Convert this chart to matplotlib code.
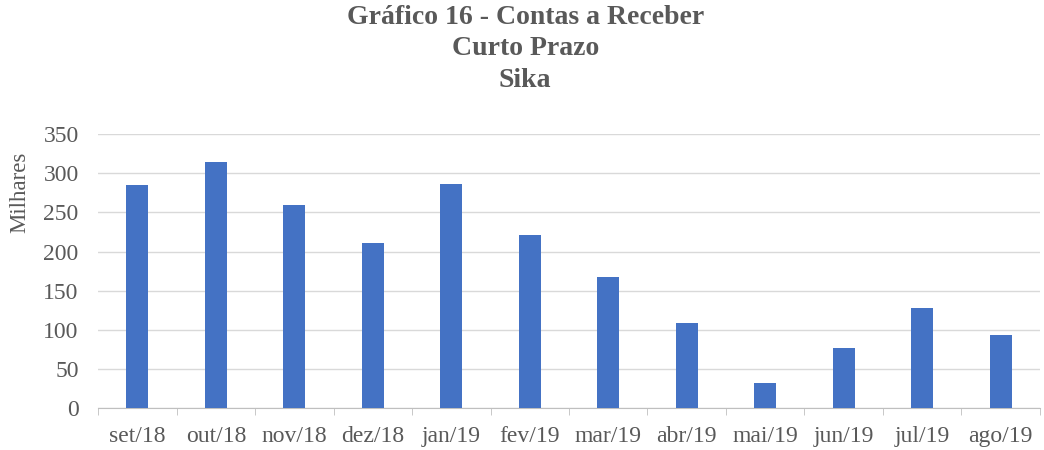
import matplotlib
matplotlib.use("Agg")
from matplotlib import pyplot as plt
import numpy as np

meses = ["set/18", "out/18", "nov/18", "dez/18", "jan/19", "fev/19",
         "mar/19", "abr/19", "mai/19", "jun/19", "jul/19", "ago/19"]
valores = [285, 314, 260, 211, 286, 221, 167, 109, 32, 77, 128, 94]

plt.rcParams['font.family'] = ['Liberation Serif', 'DejaVu Serif']
cinza = "#595959"

fig = plt.figure(figsize=(10.44, 4.5), dpi=100)
ax = fig.add_axes([0.094, 0.093, 0.902, 0.609])

x = np.arange(len(meses))
ax.bar(x, valores, width=0.28, color="#4472C4", zorder=3)

ax.set_xlim(-0.5, len(meses) - 0.5)
ax.set_ylim(0, 350)
ax.set_yticks(range(0, 351, 50))
ax.set_xticks(x)
ax.set_xticklabels(meses)
ax.set_xticks(np.arange(-0.5, len(meses), 1), minor=True)
ax.tick_params(axis="x", which="major", length=0, pad=13, labelsize=17, labelcolor=cinza)
ax.tick_params(axis="x", which="minor", length=5, color="#BFBFBF")
ax.tick_params(axis="y", length=0, labelsize=17, labelcolor=cinza, pad=14)

ax.grid(axis="y", color="#D9D9D9", linewidth=1, zorder=0)
for s in ["top", "right", "left"]:
    ax.spines[s].set_visible(False)
ax.spines["bottom"].set_color("#BFBFBF")

# rótulo do eixo y
fig.text(20 / 1044, 1 - 192 / 450, "Milhares", rotation=90, ha="center", va="center",
         fontsize=16.5, color=cinza)

fig.text(0.503, 0.99, "Gráfico 16 - Contas a Receber\nCurto Prazo\nSika",
         ha="center", va="top", fontsize=20, fontweight="bold", color=cinza,
         linespacing=1.36)

plt.savefig("out.png", dpi=100)
